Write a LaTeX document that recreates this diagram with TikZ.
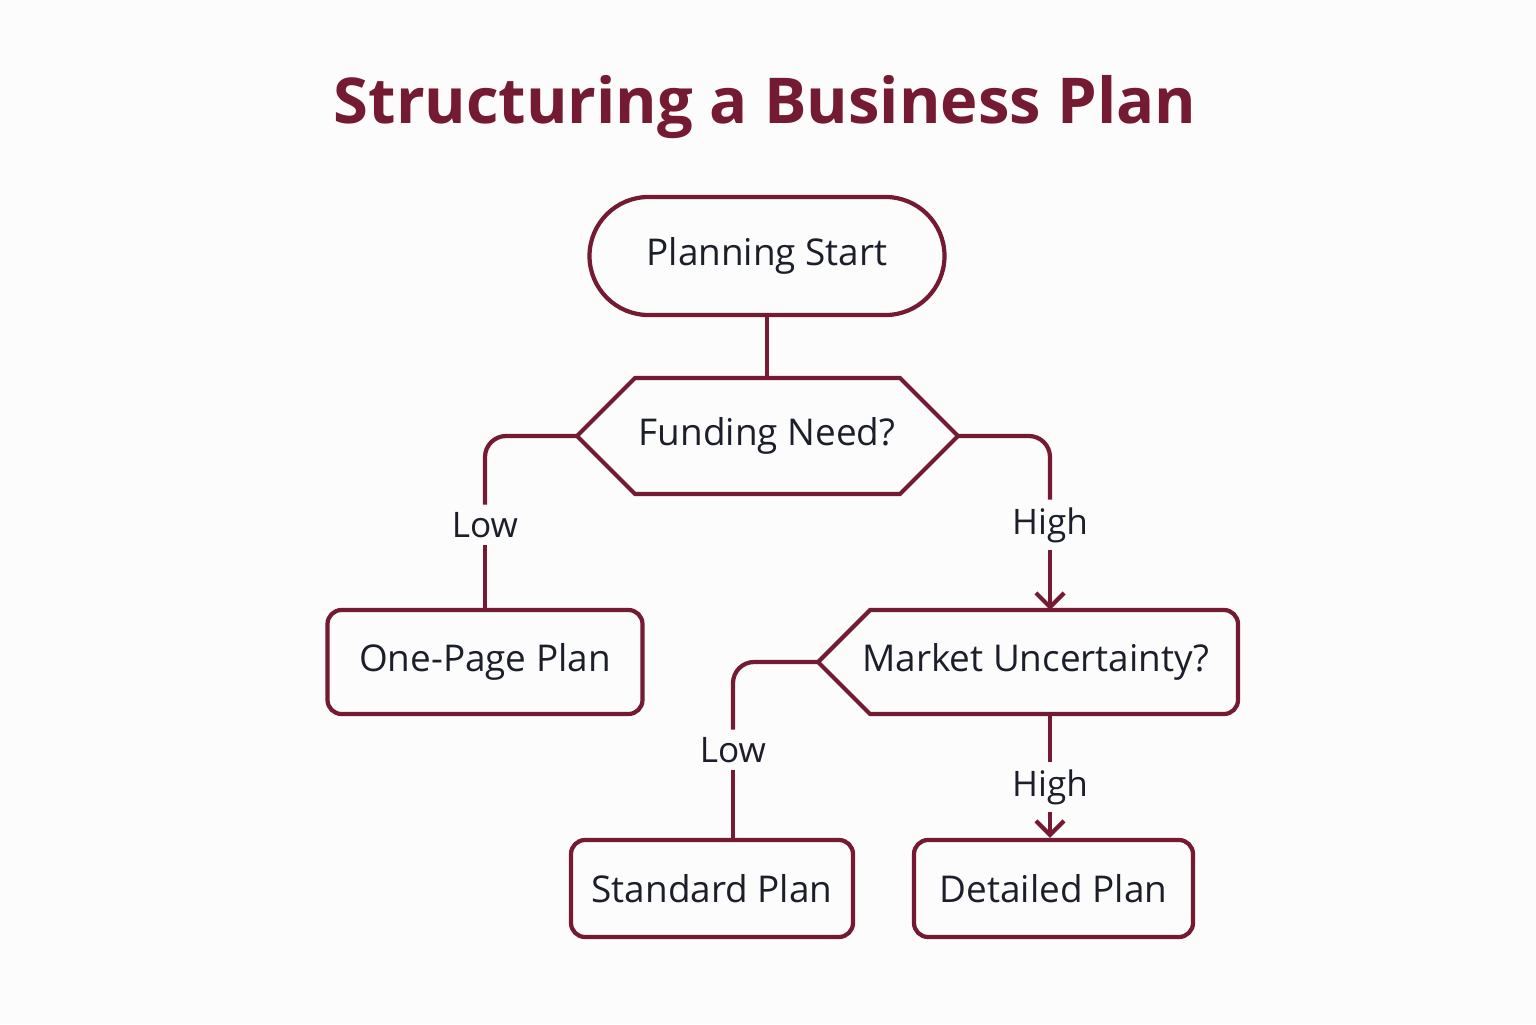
\documentclass[tikz,border=0pt]{standalone}
\usepackage{fontspec}
\setmainfont{Open Sans}
\usetikzlibrary{arrows.meta}
\definecolor{plum}{HTML}{741A33}
\definecolor{ink}{HTML}{1C1F2A}
\tikzset{
  box/.style={draw=plum,line width=1.2pt,rounded corners=4pt,minimum height=1.04cm,text=ink,font=\fontsize{10.5}{12}\selectfont},
  lbl/.style={text=ink,font=\fontsize{10}{12}\selectfont,inner sep=2pt},
  link/.style={draw=plum,line width=1.2pt,rounded corners=6pt},
  arr/.style={link,-{Straight Barb[length=4pt,width=8pt]}}
}
\begin{document}
\begin{tikzpicture}
\useasboundingbox[fill=white!99!black] (0,0) rectangle (15.36,10.24);
\node[text=plum,font=\fontsize{18}{22}\selectfont\bfseries] (title) at (7.65,9.17) {Structuring a Business Plan};

\node[box,rounded corners=0.59cm,minimum width=3.55cm,minimum height=1.18cm] (start) at (7.67,7.68) {Planning Start};

% funding hexagon
\draw[plum,line width=1.2pt] (5.77,5.88) -- (6.35,6.46) -- (9.00,6.46) -- (9.58,5.88) -- (9.00,5.30) -- (6.35,5.30) -- cycle;
\node[lbl,font=\fontsize{10.5}{12}\selectfont] (fund) at (7.67,5.88) {Funding Need?};
\coordinate (fundL) at (5.77,5.88);
\coordinate (fundR) at (9.58,5.88);
\coordinate (fundT) at (7.67,6.46);

% market pentagon
\draw[plum,line width=1.2pt] (8.18,3.62) -- (8.70,4.14) [rounded corners=4pt] -- (12.38,4.14) -- (12.38,3.10) [sharp corners] -- (8.70,3.10) -- cycle;
\node[lbl,font=\fontsize{10.5}{12}\selectfont] (market) at (10.36,3.62) {Market Uncertainty?};
\coordinate (marketL) at (8.18,3.62);
\coordinate (marketT) at (10.50,4.14);
\coordinate (marketB) at (10.50,3.10);

\node[box,minimum width=3.15cm] (onepage) at (4.85,3.62) {One-Page Plan};
\node[box,minimum width=2.82cm,minimum height=0.97cm] (standard) at (7.12,1.355) {Standard Plan};
\node[box,minimum width=2.79cm,minimum height=0.97cm] (detailed) at (10.535,1.355) {Detailed Plan};

\node[lbl] (low1) at (4.85,4.99) {Low};
\node[lbl] (high1) at (10.50,4.99) {High};
\node[lbl] (low2) at (7.33,2.74) {Low};
\node[lbl] (high2) at (10.50,2.37) {High};

\draw[link] (start.south) -- (fundT);
\draw[link] (fundL) -| (low1.north);
\draw[link] (low1.south) -- (onepage.north);
\draw[link] (fundR) -| (high1.north);
\draw[arr] (high1.south) -- (marketT);
\draw[link] (marketL) -| (low2.north);
\draw[link] (low2.south) -- (low2.south |- standard.north);
\draw[link] (marketB) -- (high2.north);
\draw[arr] (high2.south) -- (high2.south |- detailed.north);
\end{tikzpicture}
\end{document}
